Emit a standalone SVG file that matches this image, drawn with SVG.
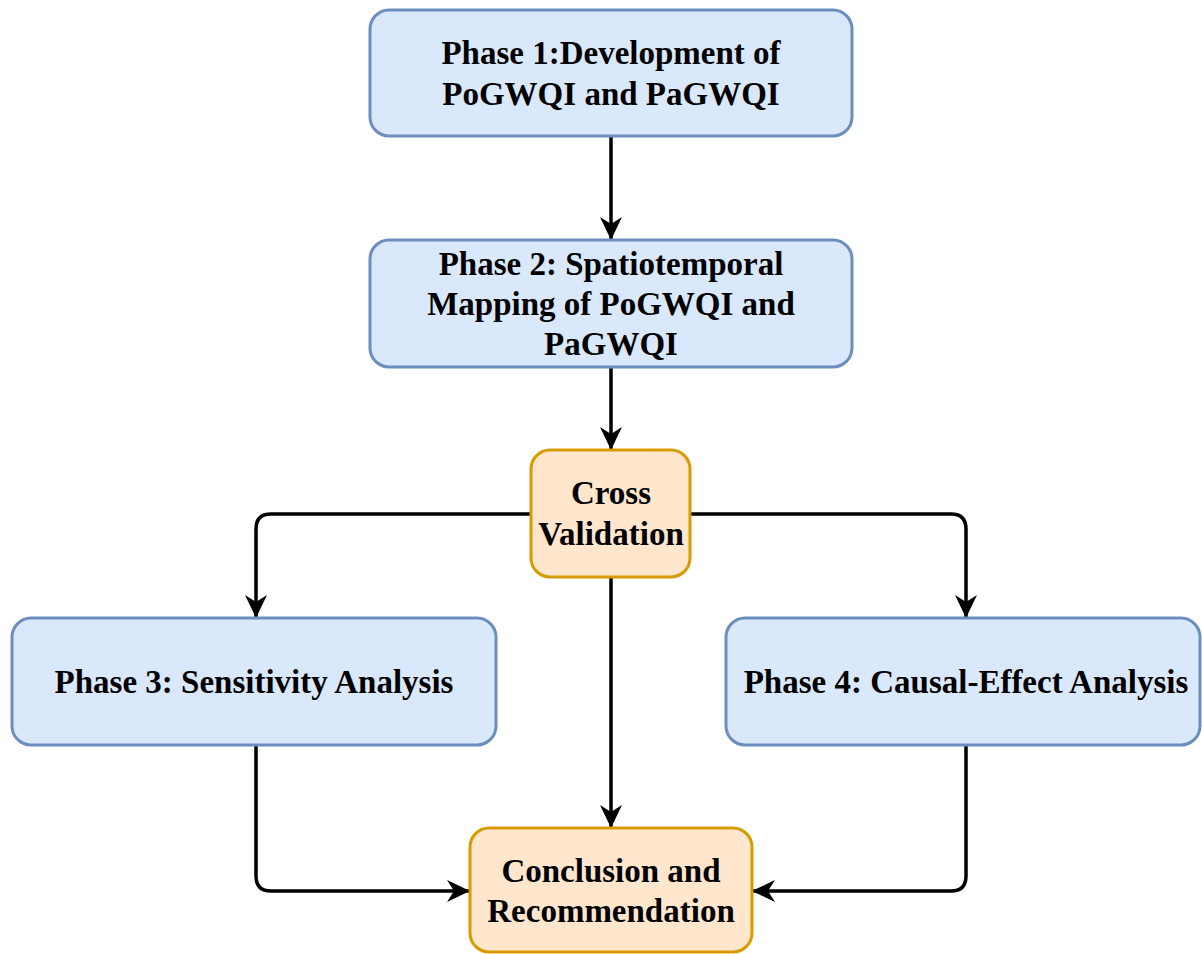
<svg xmlns="http://www.w3.org/2000/svg" width="1202" height="954" viewBox="0 0 1202 954">
<style>
.blue{fill:#dae8fc;stroke:#6c8ebf;stroke-width:3}
.orange{fill:#ffe6cc;stroke:#d79b00;stroke-width:3}
.t{font-family:"Liberation Serif","Times New Roman",serif;font-weight:bold;font-size:33px;fill:#000;text-anchor:middle}
.c{fill:none;stroke:#000;stroke-width:3.5}
</style>
<defs>
<marker id="arr" viewBox="0 0 23 22" refX="23" refY="11" markerWidth="23" markerHeight="22" markerUnits="userSpaceOnUse" orient="auto">
<path d="M0,0 L23,11 L0,22 L7,11 z" fill="#000"/>
</marker>
</defs>
<rect width="1202" height="954" fill="#fff"/>
<g id="connectors">
<path class="c" d="M611,136 V240" marker-end="url(#arr)"/>
<path class="c" d="M611,367 V450" marker-end="url(#arr)"/>
<path class="c" d="M531,514 H271 Q256,514 256,529 V618" marker-end="url(#arr)"/>
<path class="c" d="M690,514 H951 Q966,514 966,529 V618" marker-end="url(#arr)"/>
<path class="c" d="M611,577 V828" marker-end="url(#arr)"/>
<path class="c" d="M256,745 V876 Q256,891 271,891 H470" marker-end="url(#arr)"/>
<path class="c" d="M966,745 V876 Q966,891 951,891 H752" marker-end="url(#arr)"/>
</g>
<g id="phase1">
<rect class="blue" x="370" y="10" width="482" height="126" rx="19"/>
<text class="t" x="611" y="64">Phase 1:Development of</text>
<text class="t" x="611" y="105">PoGWQI and PaGWQI</text>
</g>
<g id="phase2">
<rect class="blue" x="370" y="240" width="482" height="127" rx="19"/>
<text class="t" x="611" y="275">Phase 2: Spatiotemporal</text>
<text class="t" x="611" y="315">Mapping of PoGWQI and</text>
<text class="t" x="611" y="355">PaGWQI</text>
</g>
<g id="cross">
<rect class="orange" x="531" y="450" width="159" height="127" rx="19"/>
<text class="t" x="611" y="504">Cross</text>
<text class="t" x="611" y="545">Validation</text>
</g>
<g id="phase3">
<rect class="blue" x="12" y="618" width="484" height="127" rx="19"/>
<text class="t" x="254" y="693">Phase 3: Sensitivity Analysis</text>
</g>
<g id="phase4">
<rect class="blue" x="726" y="618" width="474" height="127" rx="19"/>
<text class="t" x="966" y="693">Phase 4: Causal-Effect Analysis</text>
</g>
<g id="conclusion">
<rect class="orange" x="470" y="828" width="282" height="124" rx="19"/>
<text class="t" x="611" y="882">Conclusion and</text>
<text class="t" x="611" y="922">Recommendation</text>
</g>
</svg>
